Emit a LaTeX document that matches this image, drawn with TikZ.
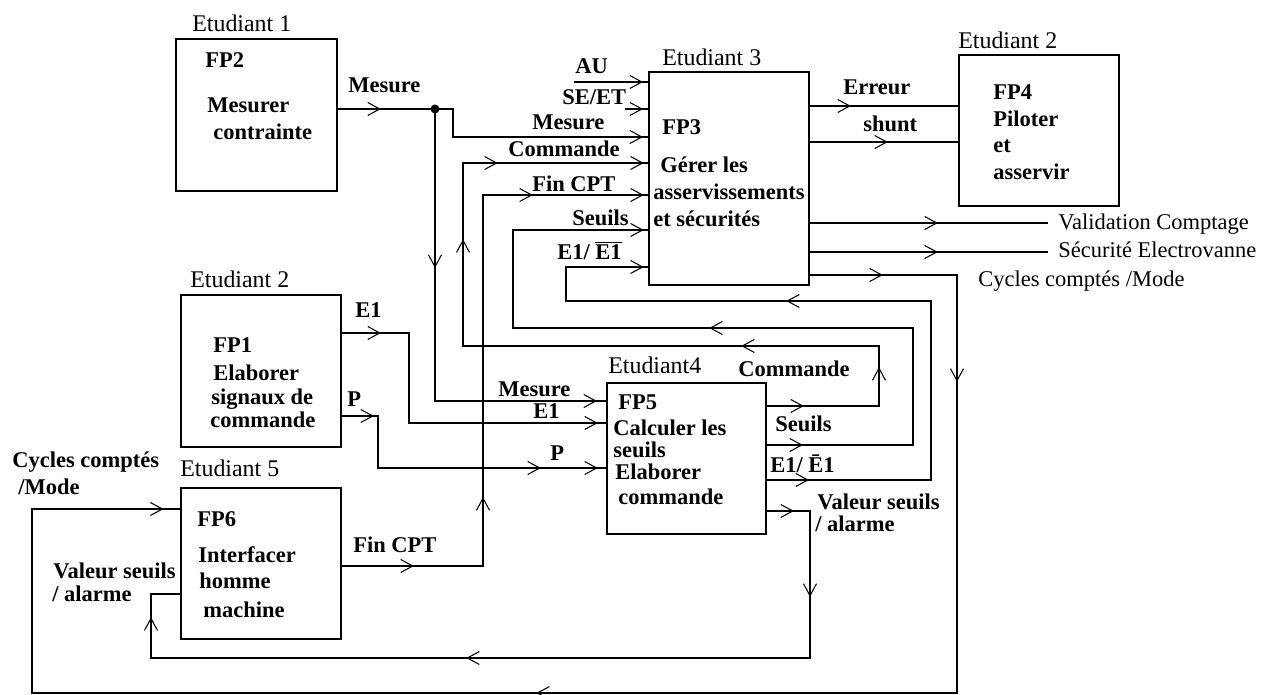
\documentclass[tikz,border=0pt]{standalone}
\usepackage{fontspec}
\setmainfont{Liberation Serif}
\usepackage{tikz}
\usetikzlibrary{arrows.meta,positioning,calc,decorations.markings}
\newcommand{\diafont}{\fontsize{12.8pt}{15pt}\selectfont}
\newcommand{\studfont}{\fontsize{13.6pt}{16pt}\selectfont}

\tikzset{
  barb/.tip={Straight Barb[length=0.24cm,width=0.26cm,line width=0.6pt]},
  fbox/.style={draw, line width=1pt, inner sep=0pt, minimum width=3.2cm},
  wire/.style={line width=1pt},
  tipat/.style={postaction={decorate,decoration={markings,mark=at position #1 with {\arrow{barb}}}}},
  lbl/.style={anchor=base west, inner sep=0pt, font=\diafont\bfseries},
  plain/.style={anchor=base west, inner sep=0pt, font=\diafont},
  stud/.style={anchor=base west, inner sep=0pt, font=\studfont},
}

\begin{document}
\begin{tikzpicture}[x=0.02cm, y=-0.02cm]
\useasboundingbox (0,0) rectangle (1279,695);

% function boxes
\node[fbox, minimum width=3.22cm, minimum height=3.04cm] (fp2) at (256.5,115) {};
\node[fbox, minimum height=4.26cm] (fp3) at (729,178.5) {};
\node[fbox, minimum height=3.02cm] (fp4) at (1039,130.5) {};
\node[fbox, minimum height=3.04cm] (fp1) at (261,371) {};
\node[fbox, minimum width=3.18cm, minimum height=3.02cm] (fp5) at (686.5,458.5) {};
\node[fbox, minimum height=3.02cm] (fp6) at (261,563.5) {};

% students
\node[stud] (et1) at (192,32) {Etudiant 1};
\node[stud] (et3) at (662,66) {Etudiant 3};
\node[stud] (et2a) at (958,49) {Etudiant 2};
\node[stud] (et2b) at (190,288) {Etudiant 2};
\node[stud] (et4) at (608,374) {Etudiant4};
\node[stud] (et5) at (180,477) {Etudiant 5};

% box texts
\node[lbl] (fp2a) at (205,68) {FP2};
\node[lbl] (fp2b) at (207,113) {Mesurer};
\node[lbl] (fp2c) at (213,140) {contrainte};
\node[lbl] (fp3a) at (662,135) {FP3};
\node[lbl] (fp3b) at (660,173) {Gérer les};
\node[lbl] (fp3c) at (653,200) {asservissements};
\node[lbl] (fp3d) at (653,227) {et sécurités};
\node[lbl] (fp4a) at (993,100) {FP4};
\node[lbl] (fp4b) at (993,127) {Piloter};
\node[lbl] (fp4c) at (993,153) {et};
\node[lbl] (fp4d) at (993,180) {asservir};
\node[lbl] (fp1a) at (213,353) {FP1};
\node[lbl] (fp1b) at (213,381) {Elaborer};
\node[lbl] (fp1c) at (211,405) {signaux de};
\node[lbl] (fp1d) at (210,428) {commande};
\node[lbl] (fp5a) at (618,410) {FP5};
\node[lbl] (fp5b) at (613,436) {Calculer les};
\node[lbl] (fp5c) at (613,458) {seuils};
\node[lbl] (fp5d) at (615,480) {Elaborer};
\node[lbl] (fp5e) at (618,505) {commande};
\node[lbl] (fp6a) at (197,527) {FP6};
\node[lbl] (fp6b) at (198,563) {Interfacer};
\node[lbl] (fp6c) at (199,589) {homme};
\node[lbl] (fp6d) at (203,618) {machine};

% signal labels
\node[lbl] (lmes1) at (348,93) {Mesure};
\node[lbl] (lau) at (575,74) {AU};
\node[lbl] (lse) at (562,105) {SE/ET};
\node[lbl] (lmes3) at (532,130) {Mesure};
\node[lbl] (lcmd3) at (508,157) {Commande};
\node[lbl] (lfin3) at (532,192) {Fin CPT};
\node[lbl] (lseu3) at (572,226) {Seuils};
\node[lbl] (le3) at (557,260) {E1/ \(\overline{\mbox{E1}}\)};
\node[lbl] (lerr) at (843,95) {Erreur};
\node[lbl] (lsh) at (863,132) {shunt};
\node[plain] (lval) at (1058,230) {Validation Comptage};
\node[plain] (lsec) at (1058,258) {Sécurité Electrovanne};
\node[plain] (lcyc3) at (978,287) {Cycles comptés /Mode};
\node[lbl] (le1) at (355,318) {E1};
\node[lbl] (lp1) at (347,407) {P};
\node[lbl] (lmes5) at (498,397) {Mesure};
\node[lbl] (le15) at (533,419) {E1};
\node[lbl] (lp5) at (550,461) {P};
\node[lbl] (lcmd5) at (738,377) {Commande};
\node[lbl] (lseu5) at (775,432) {Seuils};
\node[lbl] (le5) at (770,473) {E1/ \=E1};
\node[lbl] (lvs5a) at (817,510) {Valeur seuils};
\node[lbl] (lvs5b) at (815,532) {/ alarme};
\node[lbl] (lcyc6a) at (12,468) {Cycles comptés};
\node[lbl] (lcyc6b) at (18,495) {/Mode};
\node[lbl] (lfin6) at (353,553) {Fin CPT};
\node[lbl] (lvs6a) at (53,579) {Valeur seuils};
\node[lbl] (lvs6b) at (52,602) {/ alarme};

% junction and corner points
\node[circle, fill, inner sep=0pt, minimum size=0.18cm] (jn) at (435,109) {};
\coordinate (mes3) at (453,137);
\coordinate (mes5) at (435,401);
\coordinate (au) at (574,82);
\coordinate (se) at (625,109);
\coordinate (cmd0) at (879,406);
\coordinate (cmdA) at (879,346);
\coordinate (cmdB) at (463,163);
\coordinate (seu0) at (913,445);
\coordinate (seuA) at (913,328);
\coordinate (seuB) at (513,230);
\coordinate (eb0) at (931,480);
\coordinate (ebA) at (931,301);
\coordinate (ebB) at (566,267);
\coordinate (vs0) at (810,511);
\coordinate (vsA) at (810,658);
\coordinate (vsB) at (151,594);
\coordinate (cy0) at (957,275);
\coordinate (cyA) at (957,693);
\coordinate (cyB) at (32,509);
\coordinate (fin0) at (483,566);
\coordinate (finA) at (483,195);
\coordinate (e10) at (409,333);
\coordinate (e1A) at (409,423);
\coordinate (p0) at (378,416);
\coordinate (pA) at (378,468);
\coordinate (err) at (850,106);
\coordinate (sh) at (887,142);
\coordinate (valend) at (1048,223);
\coordinate (secend) at (1048,252);

% Mesure
\draw[wire, tipat=0.86cm] (fp2.east |- jn) -- (jn.center);
\draw[wire, tipat=4.72cm] (jn.center) -| (mes3) -- (mes3 -| fp3.west);
\draw[wire, tipat=3.18cm, tipat=9.08cm] (jn.center) -- (mes5) -- (mes5 -| fp5.west);
% AU, SE/ET
\draw[wire, tipat=1.38cm] (au) -- (au -| fp3.west);
\draw[wire, tipat=0.36cm] (se) -- (se -| fp3.west);
% Commande
\draw[wire, tipat=0.74cm, tipat=3.02cm, tipat=6.2cm, tipat=13.9cm, tipat=16.12cm, tipat=19.04cm]
  (fp5.east |- cmd0) -- (cmd0) -- (cmdA) -| (cmdB) -- (cmdB -| fp3.west);
% Seuils
\draw[wire, tipat=0.72cm, tipat=9.34cm, tipat=17.84cm]
  (fp5.east |- seu0) -- (seu0) -- (seuA) -| (seuB) -- (seuB -| fp3.west);
% E1 / E1 barre
\draw[wire, tipat=0.84cm, tipat=9.76cm, tipat=16.4cm]
  (fp5.east |- eb0) -- (eb0) -- (ebA) -| (ebB) -- (ebB -| fp3.west);
% Valeur seuils / alarme
\draw[wire, tipat=0.54cm, tipat=2.58cm, tipat=10.68cm, tipat=17.8cm]
  (fp5.east |- vs0) -- (vs0) -- (vsA) -| (vsB) -- (vsB -| fp6.west);
% Cycles comptes / Mode
\draw[wire, tipat=1.46cm, tipat=5.08cm, tipat=19.72cm, tipat=36.12cm]
  (fp3.east |- cy0) -- (cy0) -- (cyA) -| (cyB) -- (cyB -| fp6.west);
% Fin CPT
\draw[wire, tipat=1.44cm, tipat=4.2cm, tipat=11.24cm, tipat=13.46cm]
  (fp6.east |- fin0) -- (fin0) -- (finA) -- (finA -| fp3.west);
% E1 and P
\draw[wire, tipat=0.78cm, tipat=6.92cm] (fp1.east |- e10) -- (e10) -- (e1A) -- (e1A -| fp5.west);
\draw[wire, tipat=0.64cm, tipat=5.02cm, tipat=6.16cm] (fp1.east |- p0) -- (p0) -- (pA) -- (pA -| fp5.west);
% outputs of FP3
\draw[wire, tipat=0.82cm] (fp3.east |- err) -- (fp4.west |- err);
\draw[wire, tipat=1.56cm] (fp3.east |- sh) -- (fp4.west |- sh);
\draw[wire, tipat=2.56cm] (fp3.east |- valend) -- (valend);
\draw[wire, tipat=2.56cm] (fp3.east |- secend) -- (secend);
\end{tikzpicture}
\end{document}
